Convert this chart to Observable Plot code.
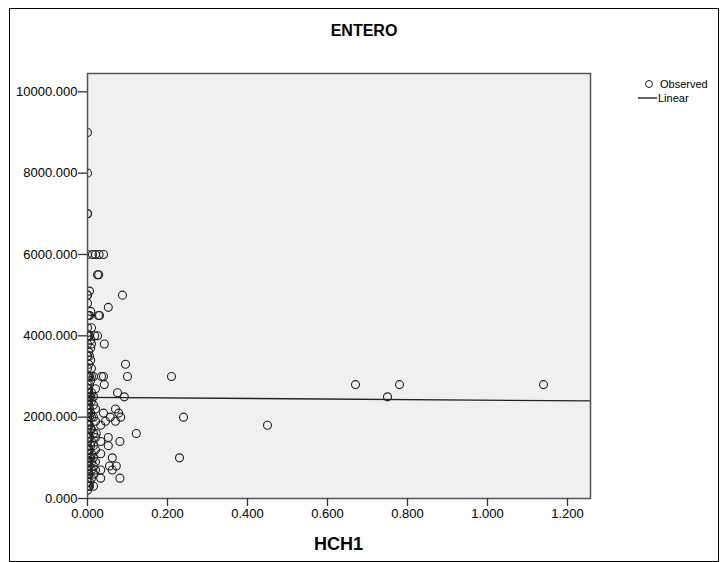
<!DOCTYPE html>
<html>
<head>
<meta charset="utf-8">
<script src="https://cdn.jsdelivr.net/npm/d3@7"></script>
<script src="https://cdn.jsdelivr.net/npm/@observablehq/plot@0.6"></script>
<style>
  html, body { margin: 0; padding: 0; background: #fff; }
  #wrap { position: relative; width: 728px; height: 562px; font-family: Arial, "Liberation Sans", sans-serif; }
  #border { position: absolute; left: 9px; top: 8px; width: 710px; height: 554px; border: 1px solid #000; box-sizing: border-box; }
  #title { position: absolute; left: 0; width: 728px; top: 22px; text-align: center; font-weight: bold; font-size: 16px; color: #000; }
  #xlabel { position: absolute; left: 87px; width: 503px; top: 534px; text-align: center; font-weight: bold; font-size: 18px; color: #000; }
  #legend { position: absolute; left: 636px; top: 77px; font-size: 11px; color: #000; line-height: 14px; }
  #legend div { display: flex; align-items: center; height: 14px; }
  #plot { position: absolute; left: 0; top: 0; }
</style>
</head>
<body>
<div id="wrap">
  <div id="plot"></div>
  <div id="border"></div>
  <div id="title">ENTERO</div>
  <div id="xlabel">HCH1</div>
  <div id="legend">
    <div><svg width="22" height="14"><circle cx="13" cy="7" r="3.5" fill="none" stroke="#222" stroke-width="1"/></svg><span style="margin-left:2px">Observed</span></div>
    <div><svg width="22" height="14"><line x1="2" x2="21" y1="7" y2="7" stroke="#333" stroke-width="1.5"/></svg><span>Linear</span></div>
  </div>
</div>
<script>
// HCH1 (x) and ENTERO (y) observations
const farHCH1   = [0.21, 0.24, 0.23, 0.45, 0.67, 0.75, 0.78, 1.14];
const farENTERO = [3000, 2000, 1000, 1800, 2800, 2500, 2800, 2800];

const midHCH1   = [0.0875, 0.052, 0.028, 0.03, 0.042, 0.095, 0.1, 0.035, 0.04, 0.042, 0.075, 0.092, 0.07, 0.078, 0.083, 0.07, 0.057, 0.045, 0.04, 0.033, 0.122, 0.022, 0.052, 0.081, 0.033, 0.052, 0.033, 0.062, 0.055, 0.072, 0.062, 0.033, 0.081, 0.033, 0.04, 0.029, 0.02, 0.0125, 0.025, 0.025, 0.018, 0.0275];
const midENTERO = [5000, 4700, 5500, 4500, 3800, 3300, 3000, 3000, 3000, 2800, 2600, 2500, 2200, 2100, 2000, 1900, 2000, 1900, 2100, 1800, 1600, 1600, 1500, 1400, 1400, 1300, 1100, 1000, 800, 800, 700, 700, 500, 500, 6000, 6000, 6000, 6000, 5500, 4000, 4000, 4500];

// dense band of observations at (or very near) HCH1 = 0
const col0ENTERO   = [9000, 8000, 7000, 7000, 6000, 5000, 5000, 4800, 4500, 4200, 4000, 3800, 3500, 3500, 3200, 3000, 3000, 2800, 2700, 2600, 2500, 2500, 2400, 2300, 2200, 2100, 2000, 2000, 1900, 1800, 1700, 1600, 1500, 1400, 1300, 1200, 1100, 1000, 900, 800, 700, 600, 500, 400, 300, 200];
const col003ENTERO = [4500, 4000, 3600, 3300, 3000, 2700, 2600, 2400, 2300, 2100, 1800, 1500, 1200, 900, 600, 300];
const col005ENTERO = [5100, 4500, 4000, 3500, 3000, 2800, 2500, 2200, 2000, 1800, 1500, 1200, 1000, 800, 600, 400, 300];
const col008ENTERO = [4600, 3900, 3700, 3400, 2900, 2500, 2100, 1700, 1300, 1000];
const col01ENTERO  = [4200, 3800, 3200, 3000, 2600, 2400, 2000, 1700, 1400, 1100, 900, 700, 500];
const col015ENTERO = [3000, 2500, 2300, 2000, 1600, 1300, 1000, 800, 600, 300];
const col02ENTERO  = [2700, 2200, 1900, 1500, 1200, 900, 700];

const xTicks = [0, 0.2, 0.4, 0.6, 0.8, 1.0, 1.2];
const yTicks = [0, 2000, 4000, 6000, 8000, 10000];
const xDomain = [0, 1.2575];
const yDomain = [0, 10450];

const data = [];
farHCH1.forEach((x, i) => data.push({x, y: farENTERO[i]}));
midHCH1.forEach((x, i) => data.push({x, y: midENTERO[i]}));
col0ENTERO.forEach(y => data.push({x: 0, y}));
col003ENTERO.forEach(y => data.push({x: 0.003, y}));
col005ENTERO.forEach(y => data.push({x: 0.005, y}));
col008ENTERO.forEach(y => data.push({x: 0.008, y}));
col01ENTERO.forEach(y => data.push({x: 0.01, y}));
col015ENTERO.forEach(y => data.push({x: 0.015, y}));
col02ENTERO.forEach(y => data.push({x: 0.02, y}));

// least-squares linear fit of the observations, drawn across the full x range
const mx = d3.mean(data, d => d.x), my = d3.mean(data, d => d.y);
const slope = d3.sum(data, d => (d.x - mx) * (d.y - my)) / d3.sum(data, d => (d.x - mx) ** 2);
const intercept = my - slope * mx;
const fit = xDomain.map(x => ({x, y: intercept + slope * x}));

const fmt = d3.format(".3f");
const chart = Plot.plot({
  width: 728,
  height: 562,
  marginLeft: 87,
  marginRight: 138,
  marginTop: 73,
  marginBottom: 64,
  style: { fontFamily: "Arial, 'Liberation Sans', sans-serif", fontSize: "13px", color: "#000", background: "transparent" },
  x: { domain: xDomain, label: null },
  y: { domain: yDomain, label: null },
  marks: [
    Plot.frame({ fill: "#f0f0f0", stroke: null }),
    Plot.dot(data, { x: "x", y: "y", r: 4, stroke: "#222", strokeWidth: 1.1, fill: "none", clip: true }),
    Plot.line(fit, { x: "x", y: "y", stroke: "#222", strokeWidth: 1.3, clip: true }),
    Plot.frame({ stroke: "#555", strokeWidth: 1.5 }),
    Plot.axisX({ ticks: xTicks, tickFormat: fmt, tickSize: 8, tickPadding: 2, stroke: "#333", strokeWidth: 1.3, label: null, fontSize: 13 }),
    Plot.axisY({ ticks: yTicks, tickFormat: fmt, tickSize: 9, tickPadding: 1, stroke: "#333", strokeWidth: 1.3, label: null, fontSize: 13 })
  ]
});
document.getElementById("plot").appendChild(chart);
</script>
</body>
</html>
